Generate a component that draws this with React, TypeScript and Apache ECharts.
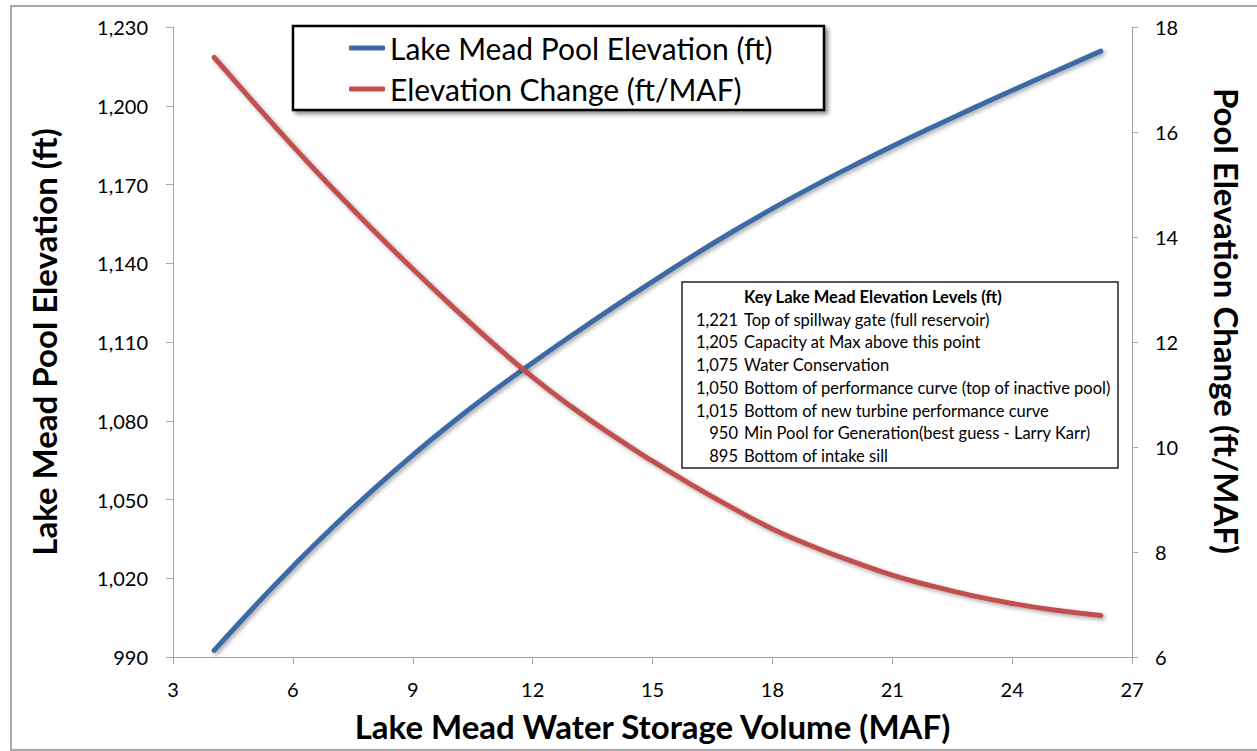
import React, { useEffect, useRef } from "react";
import * as echarts from "echarts";

const storageMAF = [4.03, 5, 6, 7, 8, 9, 10, 11, 12, 13, 14, 15, 16, 17, 18, 19, 20, 21, 22, 23, 24, 25, 26.22];
const poolElevation = [992.5, 1008.6, 1024.5, 1039.5, 1053.6, 1066.9, 1079.4, 1091.1, 1102.1, 1112.7, 1123, 1133, 1142.7, 1152, 1160.8, 1169.1, 1177, 1184.6, 1191.8, 1198.9, 1205.8, 1212.6, 1220.8];
const elevationChange = [17.42, 16.58, 15.73, 14.92, 14.14, 13.39, 12.67, 11.98, 11.33, 10.75, 10.22, 9.73, 9.27, 8.84, 8.44, 8.11, 7.82, 7.56, 7.35, 7.17, 7.02, 6.9, 6.79];

const seriesNames = ["Lake Mead Pool Elevation (ft)", "Elevation Change (ft/MAF)"];
const keyTitle = "Key Lake Mead Elevation Levels (ft)";
const keyLevels = ["1,221", "1,205", "1,075", "1,050", "1,015", "950", "895"];
const keyLabels = [
  "Top of spillway gate (full reservoir)",
  "Capacity at Max above this point",
  "Water Conservation",
  "Bottom of performance curve (top of inactive pool)",
  "Bottom of new turbine performance curve",
  "Min Pool for Generation(best guess - Larry Karr)",
  "Bottom of intake sill",
];

const FONT = "Lato, 'Noto Sans', sans-serif";
const AXIS_GRAY = "#a6a6a6";

function fmtThousands(v: number) {
  return String(v).replace(/\B(?=(\d{3})+(?!\d))/g, ",");
}

export default function App() {
  const ref = useRef<HTMLDivElement>(null);
  useEffect(() => {
    if (!ref.current) return;
    const chart = echarts.init(ref.current, undefined, { renderer: "svg" });

    const keyX = 682;
    const keyY = 282;
    const rowY0 = 297;
    const rowStep = 22.7;
    const keyFont = 16.5;
    const keyTexts: any[] = [
      {
        type: "text",
        z: 20,
        silent: true,
        x: 744,
        y: rowY0,
        style: { text: keyTitle, font: `bold ${keyFont}px ${FONT}`, fill: "#000", verticalAlign: "middle", align: "left" },
      },
    ];
    keyLevels.forEach((lv, i) => {
      keyTexts.push({
        type: "text",
        z: 20,
        silent: true,
        x: 738,
        y: rowY0 + rowStep * (i + 1),
        style: { text: lv, font: `${keyFont}px ${FONT}`, fill: "#000", verticalAlign: "middle", align: "right" },
      });
      keyTexts.push({
        type: "text",
        z: 20,
        silent: true,
        x: 744,
        y: rowY0 + rowStep * (i + 1),
        style: { text: keyLabels[i], font: `${keyFont}px ${FONT}`, fill: "#000", verticalAlign: "middle", align: "left" },
      });
    });

    const lineStyleBase = {
      width: 5,
      cap: "round",
      shadowColor: "rgba(0,0,0,0.35)",
      shadowBlur: 4,
      shadowOffsetX: 2,
      shadowOffsetY: 2,
    };

    const option: any = {
      animation: false,
      backgroundColor: "#fff",
      grid: { left: 173, right: 125, top: 27, bottom: 94 },
      legend: {
        orient: "vertical",
        left: 349,
        top: 33,
        padding: 0,
        itemGap: 11,
        itemWidth: 36,
        itemHeight: 5,
        icon: "roundRect",
        z: 10,
        textStyle: { fontFamily: FONT, fontSize: 30, color: "#000", lineHeight: 30 },
        data: seriesNames,
      },
      xAxis: {
        type: "value",
        min: 3,
        max: 27,
        interval: 3,
        name: "Lake Mead Water Storage Volume (MAF)",
        nameLocation: "middle",
        nameGap: 52,
        nameTextStyle: { fontFamily: FONT, fontSize: 33, fontWeight: "bold", color: "#000" },
        axisLine: { onZero: false, lineStyle: { color: AXIS_GRAY, width: 1 } },
        axisTick: { show: true, length: 7, lineStyle: { color: AXIS_GRAY } },
        axisLabel: { margin: 22, fontFamily: FONT, fontSize: 20, color: "#000" },
        splitLine: { show: false },
      },
      yAxis: [
        {
          type: "value",
          min: 990,
          max: 1230,
          interval: 30,
          position: "left",
          name: "Lake Mead Pool Elevation (ft)",
          nameLocation: "middle",
          nameGap: 113,
          nameTextStyle: { fontFamily: FONT, fontSize: 33, fontWeight: "bold", color: "#000" },
          axisLine: { show: true, lineStyle: { color: AXIS_GRAY, width: 1 } },
          axisTick: { show: true, length: 7, lineStyle: { color: AXIS_GRAY } },
          axisLabel: { margin: 25, fontFamily: FONT, fontSize: 20, color: "#000", formatter: (v: number) => fmtThousands(v) },
          splitLine: { show: false },
        },
        {
          type: "value",
          min: 6,
          max: 18,
          interval: 2,
          position: "right",
          axisLine: { show: true, lineStyle: { color: AXIS_GRAY, width: 1 } },
          axisTick: { show: true, length: 6, lineStyle: { color: AXIS_GRAY } },
          axisLabel: { margin: 23, fontFamily: FONT, fontSize: 20, color: "#000" },
          splitLine: { show: false },
        },
      ],
      series: [
        {
          name: seriesNames[0],
          type: "line",
          yAxisIndex: 0,
          smooth: true,
          showSymbol: false,
          symbol: "none",
          color: "#3d6ba4",
          lineStyle: { ...lineStyleBase, color: "#3d6ba4" },
          data: storageMAF.map((x, i) => [x, poolElevation[i]]),
        },
        {
          name: seriesNames[1],
          type: "line",
          yAxisIndex: 1,
          smooth: true,
          showSymbol: false,
          symbol: "none",
          color: "#c0504d",
          lineStyle: { ...lineStyleBase, color: "#c0504d" },
          data: storageMAF.map((x, i) => [x, elevationChange[i]]),
        },
      ],
      graphic: [
        {
          type: "rect",
          z: -10,
          silent: true,
          shape: { x: 11, y: 6, width: 1270, height: 744 },
          style: { fill: "none", stroke: "#8c8c8c", lineWidth: 1.5 },
        },
        {
          type: "rect",
          z: 1,
          silent: true,
          shape: { x: 293, y: 26, width: 531, height: 84 },
          style: {
            fill: "#fff",
            stroke: "#000",
            lineWidth: 2.5,
            shadowColor: "rgba(0,0,0,0.45)",
            shadowBlur: 4,
            shadowOffsetX: 3,
            shadowOffsetY: 3,
          },
        },
        {
          type: "rect",
          z: 1,
          silent: true,
          shape: { x: keyX, y: keyY, width: 436, height: 186 },
          style: { fill: "#fff", stroke: "#222", lineWidth: 1.5 },
        },
        ...keyTexts,
        {
          type: "text",
          z: 20,
          silent: true,
          x: 1227,
          y: 321,
          rotation: -Math.PI / 2,
          style: {
            text: "Pool Elevation Change (ft/MAF)",
            font: `bold 33px ${FONT}`,
            fill: "#000",
            align: "center",
            verticalAlign: "middle",
          },
        },
      ],
    };
    chart.setOption(option);
    return () => chart.dispose();
  }, []);

  return (
    <div
      ref={ref}
      style={{ position: "fixed", left: 0, top: 0, width: 1257, height: 751, background: "#fff" }}
    />
  );
}
